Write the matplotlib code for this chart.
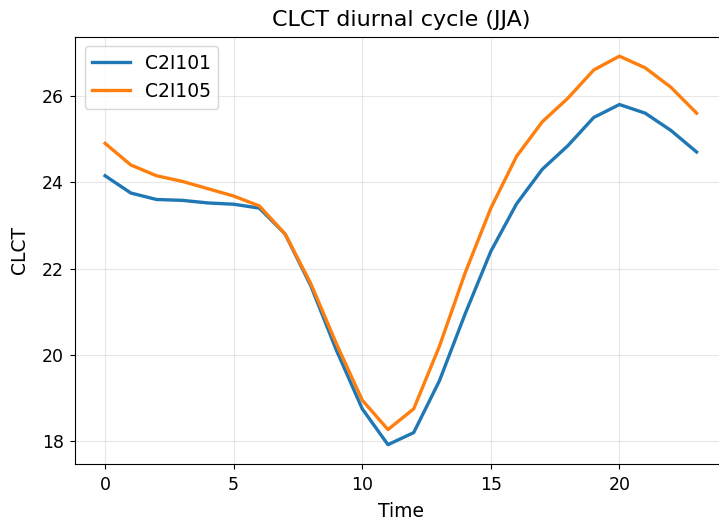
import matplotlib
matplotlib.use("Agg")
import matplotlib.pyplot as plt

hours = list(range(24))
c2i101 = [24.15, 23.75, 23.60, 23.58, 23.52, 23.49, 23.40, 22.80, 21.60, 20.10,
          18.75, 17.92, 18.20, 19.40, 20.95, 22.40, 23.50, 24.30, 24.85, 25.50,
          25.80, 25.60, 25.20, 24.70]
c2i105 = [24.90, 24.40, 24.15, 24.02, 23.85, 23.68, 23.45, 22.80, 21.65, 20.25,
          18.95, 18.27, 18.75, 20.20, 21.90, 23.40, 24.60, 25.40, 25.95, 26.60,
          26.92, 26.65, 26.20, 25.60]

fig = plt.figure(figsize=(7.19, 5.25), dpi=100)
ax = fig.add_axes([0.105, 0.116, 0.905, 0.814])

ax.plot(hours, c2i101, color="#1f77b4", linewidth=2.4, label="C2I101")
ax.plot(hours, c2i105, color="#ff7f0e", linewidth=2.4, label="C2I105")

ax.set_title("CLCT diurnal cycle (JJA)", fontsize=16, pad=8)
ax.set_xlabel("Time", fontsize=13.5, labelpad=6)
ax.set_ylabel("CLCT", fontsize=13.5, labelpad=9)
ax.tick_params(labelsize=12.5, pad=5)
ax.set_yticks([18, 20, 22, 24, 26])
ax.grid(True, alpha=0.3)
ax.legend(loc="upper left", fontsize=13.5)

fig.savefig("out.png", dpi=100)
